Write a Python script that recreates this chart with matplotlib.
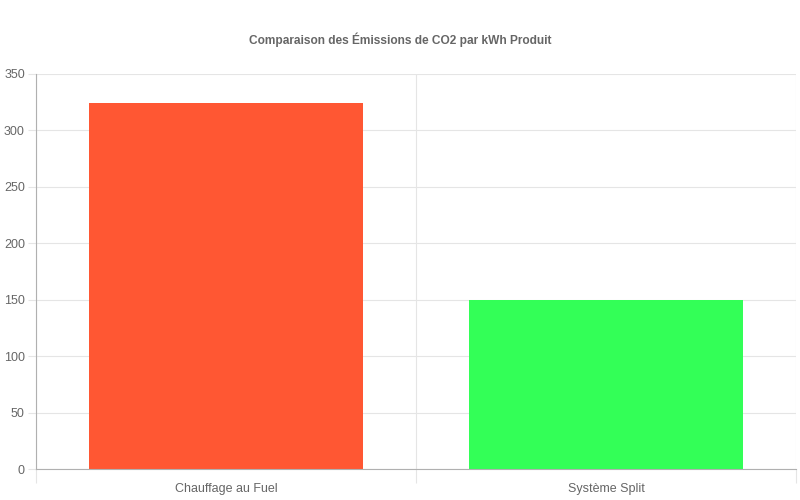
import matplotlib
matplotlib.use("Agg")
import matplotlib.pyplot as plt

categories = ["Chauffage au Fuel", "Système Split"]
emissions = [324, 150]
bar_colors = ["#FF5733", "#33FF57"]

plt.rcParams['font.family'] = ['Liberation Sans', 'DejaVu Sans']

fig = plt.figure(figsize=(8, 5), dpi=100)
ax = fig.add_axes([0.045, 0.062, 0.95, 0.790])

x = range(len(categories))
ax.bar(x, emissions, width=0.72, color=bar_colors, zorder=2)

ax.set_xlim(-0.5, len(categories) - 0.5)
ax.set_ylim(0, 350)
ax.set_yticks(range(0, 351, 50))
ax.set_xticks(list(x))
ax.set_xticklabels(categories)

# category boundary lines like chart.js
ax.set_xticks([i - 0.5 for i in range(len(categories) + 1)], minor=True)
ax.grid(axis='y', color='#e5e5e5', linewidth=0.8, zorder=0)
ax.grid(axis='x', which='minor', color='#e5e5e5', linewidth=0.8, zorder=0)
ax.tick_params(axis='x', which='major', length=0, pad=10, labelsize=9, labelcolor='#666666')
ax.tick_params(axis='x', which='minor', length=10, color='#e5e5e5', width=0.8)
ax.tick_params(axis='y', length=6, color='#e5e5e5', width=0.8, labelsize=9, labelcolor='#666666', pad=2)

for side in ['top', 'right']:
    ax.spines[side].set_visible(False)
ax.spines['left'].set_color('#b0b0b0')
ax.spines['bottom'].set_color('#b0b0b0')

fig.suptitle("Comparaison des Émissions de CO2 par kWh Produit", y=0.935,
             fontsize=8.6, fontweight='bold', color='#666666')

fig.savefig("out.png", dpi=100)
